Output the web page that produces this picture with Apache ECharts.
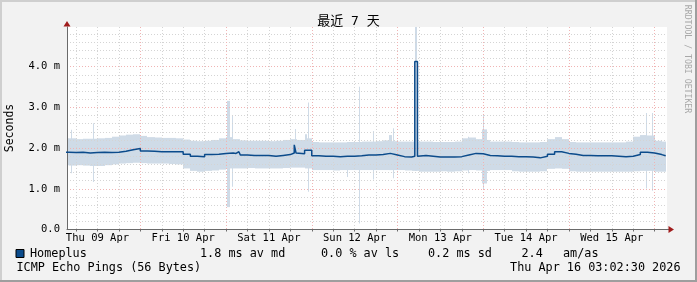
<!DOCTYPE html>
<html><head><meta charset="utf-8">
<script src="https://cdn.jsdelivr.net/npm/echarts@6/dist/echarts.min.js"></script>
<style>html,body{margin:0;padding:0;background:#f2f2f2}#c{width:697px;height:282px}</style>
</head><body><div id="c"></div>
<script>
// ---- data (hours since Thu 09 Apr 00:00, values in ms) ----
const startHour = 2, stepHours = 2, dataEnd = 171.1;
const xMin = 3.47, xMax = 171.47;
const bandHi = [
 2.24,2.24,2.22,2.23,2.23,2.24,2.25,2.28,2.31,2.33,
 2.34,2.30,2.27,2.26,2.25,2.25,2.24,2.21,2.18,2.17,
 2.18,2.20,2.24,2.27,2.22,2.19,2.18,2.18,2.18,2.17,
 2.18,2.20,2.22,2.20,2.24,2.15,2.14,2.14,2.14,2.14,
 2.15,2.15,2.16,2.16,2.17,2.19,2.17,2.16,2.16,2.16,
 2.16,2.16,2.15,2.15,2.15,2.16,2.24,2.26,2.22,2.20,
 2.16,2.16,2.16,2.15,2.14,2.14,2.14,2.15,2.22,2.27,
 2.22,2.15,2.14,2.14,2.14,2.14,2.14,2.14,2.14,2.16,
 2.28,2.32,2.31,2.18,2.16];
const bandLo = [
 1.58,1.57,1.58,1.57,1.56,1.56,1.58,1.60,1.62,1.63,
 1.64,1.63,1.62,1.62,1.62,1.61,1.60,1.50,1.44,1.42,
 1.44,1.45,1.47,1.50,1.50,1.50,1.51,1.50,1.50,1.50,
 1.50,1.51,1.52,1.52,1.50,1.46,1.46,1.46,1.45,1.46,
 1.46,1.46,1.46,1.46,1.46,1.46,1.46,1.46,1.45,1.44,
 1.42,1.42,1.42,1.43,1.42,1.43,1.45,1.46,1.45,1.44,
 1.46,1.46,1.46,1.43,1.42,1.42,1.42,1.43,1.49,1.50,
 1.49,1.43,1.42,1.42,1.42,1.42,1.42,1.42,1.42,1.42,
 1.43,1.44,1.44,1.42,1.42];
const median = [
 1.90,1.89,1.90,1.88,1.89,1.90,1.89,1.90,1.92,1.96,
 1.99,1.93,1.92,1.91,1.91,1.91,1.91,1.85,1.80,1.79,
 1.84,1.85,1.87,1.88,1.87,1.83,1.82,1.82,1.82,1.80,
 1.82,1.84,1.88,1.86,1.95,1.81,1.80,1.80,1.79,1.80,
 1.80,1.81,1.83,1.83,1.84,1.87,1.83,1.79,1.78,1.80,
 1.82,1.80,1.78,1.78,1.78,1.79,1.83,1.87,1.86,1.82,
 1.81,1.80,1.80,1.79,1.79,1.78,1.76,1.80,1.85,1.91,
 1.87,1.85,1.82,1.82,1.81,1.81,1.81,1.80,1.79,1.80,
 1.84,1.90,1.88,1.84,1.81];
const spikeT  = [4.5, 10.8, 48.4, 49.7, 67.2, 70.0, 70.95, 81.9, 85.3, 89.2, 93.6, 94.8, 100.85, 115.8, 119.7, 120.0, 165.6, 167.15];
const spikeW  = [0.3, 0.3, 0.7, 0.3, 0.5, 0.6, 0.3, 0.3, 0.3, 0.3, 1.0, 0.3, 0.75, 0.3, 1.4, 0.3, 0.3, 0.3];
const spikeLo = [1.38, 1.17, 0.55, 1.05, 1.60, 1.52, 0.93, 1.29, 0.15, 1.23, 1.46, 1.26, 1.44, 1.38, 1.13, 0.97, 1.01, 0.95];
const spikeHi = [2.45, 2.61, 3.16, 2.81, 2.47, 2.34, 3.12, 2.15, 3.51, 2.42, 2.32, 2.49, 5.20, 2.28, 2.46, 2.81, 2.86, 2.86];
const medSpikeT = [50.8, 67.1, 100.85];
const medSpikeW = [0.8, 0.5, 0.75];
const medSpikeV = [1.91, 2.08, 4.13];
const dayLabels = ['Thu 09 Apr','Fri 10 Apr','Sat 11 Apr','Sun 12 Apr','Mon 13 Apr','Tue 14 Apr','Wed 15 Apr'];
const yTickLabels = ['0.0','1.0 m','2.0 m','3.0 m','4.0 m'];

// ---- styling ----
const MONO = "'DejaVu Sans Mono', monospace";
const BAND = '#cfdbe7', LINE = '#0b4b8b';
const RED = '#f0b4b4', GRAY = '#d4d4d4', AXIS = '#6a6a6a', ARROW = '#a01c1c';
const G = {left: 67, top: 27, width: 600, height: 202.5};

const gridHours = []; for (let h = 6; h <= 168; h += 6) gridHours.push(h);
const noonHours = dayLabels.map((_, i) => 12 + 24 * i);

const bandData = bandHi.map((v, i) => {
  const s = startHour + i * stepHours;
  return [s, Math.min(s + stepHours, dataEnd), bandLo[i], v];
});
const spikeData = spikeT.map((t, i) => [t, t + spikeW[i], spikeLo[i], spikeHi[i]]);
const medPts = median.map((v, i) => [startHour + i * stepHours, v]);
medSpikeT.forEach((t, j) => {
  const i = Math.floor((t - startHour) / stepHours);
  medPts.push([t, medSpikeV[j]]);
  medPts.push([t + medSpikeW[j], median[i]]);
});
medPts.push([dataEnd, median[median.length - 1]]);
medPts.sort((a, b) => a[0] - b[0]);

function rectItem(params, api) {
  const a = api.coord([api.value(0), api.value(3)]);
  const b = api.coord([api.value(1), api.value(2)]);
  const x0 = Math.round(a[0]);
  const x1 = Math.max(x0 + 1, Math.round(b[0]));
  const cs = params.coordSys;
  const shape = echarts.graphic.clipRectByRect(
    {x: x0, y: a[1], width: x1 - x0, height: b[1] - a[1]},
    {x: cs.x, y: cs.y, width: cs.width, height: cs.height});
  return shape && {type: 'rect', shape: shape, style: {fill: BAND}};
}

const chart = echarts.init(document.getElementById('c'), null, {renderer: 'canvas'});
const txt = (text, x, y, o) => Object.assign({type: 'text', x: x, y: y, z: 100,
  style: Object.assign({text: text, fontFamily: MONO, fontSize: 11.8, fill: '#000', align: 'left', verticalAlign: 'middle'}, o || {})});

chart.setOption({
  animation: false,
  backgroundColor: '#f2f2f2',
  grid: {left: G.left, top: G.top, width: G.width, height: G.height, show: true, backgroundColor: '#fff', borderWidth: 0, z: 0},
  xAxis: {
    type: 'value', min: xMin, max: xMax, z: 3,
    axisLine: {show: true, lineStyle: {color: AXIS, width: 1}},
    axisTick: {show: true, customValues: gridHours, length: 2, lineStyle: {color: AXIS}},
    axisLabel: {customValues: noonHours, fontFamily: MONO, fontSize: 10.5, color: '#000', margin: 3,
      formatter: v => dayLabels[Math.round((v - 12) / 24)] || ''},
    splitLine: {show: true, lineStyle: {color: [GRAY, GRAY, GRAY, RED], width: 1, type: [1, 2]}}
  },
  yAxis: {
    type: 'value', min: 0, max: 4.975, interval: 0.2, z: 3,
    axisLine: {show: true, lineStyle: {color: AXIS, width: 1}},
    axisTick: {show: false},
    axisLabel: {fontFamily: MONO, fontSize: 10.5, color: '#000', margin: 7,
      formatter: v => { const r = Math.round(v); return Math.abs(v - r) < 1e-6 && yTickLabels[r] ? yTickLabels[r] : ''; }},
    splitLine: {show: true, showMaxLine: false, lineStyle: {color: [RED, GRAY, GRAY, GRAY, GRAY], width: 1, type: [1, 2]}}
  },
  series: [
    {type: 'custom', renderItem: rectItem, data: bandData, encode: {x: [0, 1], y: [2, 3]}, silent: true, z: 1},
    {type: 'custom', renderItem: rectItem, data: spikeData, encode: {x: [0, 1], y: [2, 3]}, silent: true, z: 1},
    {type: 'line', data: medPts, step: 'end', showSymbol: false, symbol: 'none', clip: true,
      lineStyle: {color: LINE, width: 1.5}, z: 5, silent: true}
  ],
  graphic: [
    {type: 'rect', shape: {x: 0, y: 0, width: 697, height: 2}, style: {fill: '#cfcfcf'}, z: 100},
    {type: 'rect', shape: {x: 0, y: 0, width: 2, height: 282}, style: {fill: '#cfcfcf'}, z: 100},
    {type: 'rect', shape: {x: 695, y: 0, width: 2, height: 282}, style: {fill: '#9e9e9e'}, z: 100},
    {type: 'rect', shape: {x: 0, y: 280, width: 697, height: 2}, style: {fill: '#9e9e9e'}, z: 100},
    {type: 'polygon', shape: {points: [[63.5, 26.5], [70.5, 26.5], [67, 21]]}, style: {fill: ARROW}, z: 100},
    {type: 'line', shape: {x1: 667, y1: 229.5, x2: 669, y2: 229.5}, style: {stroke: AXIS, lineWidth: 1}, z: 100},
    {type: 'polygon', shape: {points: [[668.5, 226], [668.5, 233], [674, 229.5]]}, style: {fill: ARROW}, z: 100},
    txt('最近 7 天', 348.5, 22, {fontFamily: "'DejaVu Sans Mono', 'Noto Sans CJK SC'", fontSize: 13, align: 'center'}),
    Object.assign(txt('Seconds', 10, 128, {fontSize: 11.5, align: 'center'}), {rotation: Math.PI / 2}),
    Object.assign(txt('RRDTOOL / TOBI OETIKER', 687.5, 59, {fontSize: 8.2, align: 'center', fill: '#a8a8a8'}), {rotation: -Math.PI / 2}),
    {type: 'rect', shape: {x: 16, y: 249.5, width: 8, height: 8}, style: {fill: LINE, stroke: '#000', lineWidth: 1}, z: 100},
    txt('Homeplus', 30, 254),
    txt('1.8 ms av md', 200, 254),
    txt('0.0 % av ls', 321, 254),
    txt('0.2 ms sd', 428, 254),
    txt('2.4', 521.5, 254),
    txt('am/as', 563, 254),
    txt('ICMP Echo Pings (56 Bytes)', 16.5, 268),
    txt('Thu Apr 16 03:02:30 2026', 680.5, 268, {align: 'right'})
  ]
});
</script>
</body></html>
